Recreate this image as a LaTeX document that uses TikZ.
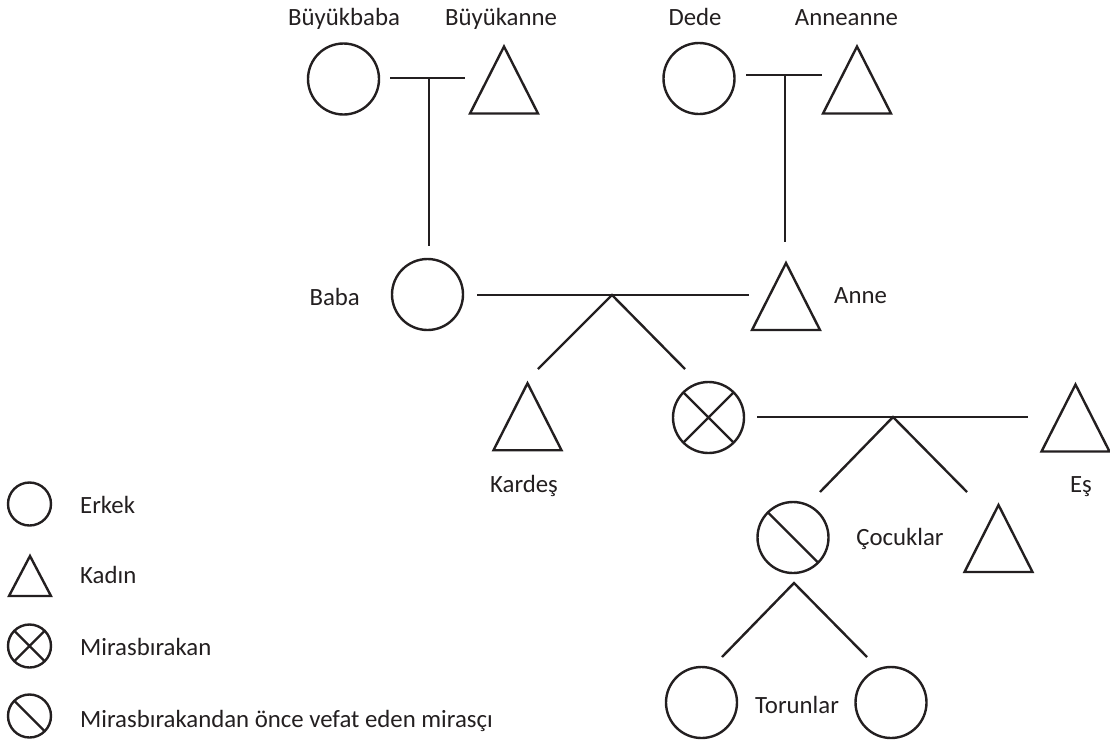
\documentclass[tikz,border=0pt]{standalone}
\usepackage{fontspec}
\setmainfont{Carlito}
\definecolor{ink}{HTML}{231F20}
\begin{document}
\begin{tikzpicture}[x=1pt,y=-1pt,
  stroke/.style={line width=2.4pt, draw=ink},
  male/.style={circle, stroke, minimum size=71pt, inner sep=0pt, outer sep=0pt},
  keymale/.style={circle, stroke, minimum size=43pt, inner sep=0pt, outer sep=0pt},
  female/.pic={\draw[stroke] (0,-33.5) -- (34,33.5) -- (-34,33.5) -- cycle;
               \coordinate (-apex) at (0,-33.5);},
  keyfemale/.pic={\draw[stroke] (0,-20) -- (21,20) -- (-21,20) -- cycle;
               \coordinate (-apex) at (0,-20);},
  lbl/.style={font=\fontsize{24.8}{28}\selectfont, inner sep=0pt, text=ink},
  link/.style={stroke, line cap=butt},
]
\useasboundingbox (0,0) rectangle (1110,745);

% ---- grandparents (father's side)
\node[male] (bbaba) at (343.5,79) {};
\pic (bkanne) at (504,80) {female};
\node[lbl, anchor=base] (lbbaba) at (344,25) {Büyükbaba};
\node[lbl, anchor=base] (lbkanne) at (501,25) {Büyükanne};

% ---- grandparents (mother's side)
\node[male] (dede) at (699,78.5) {};
\pic (aanne) at (857,80) {female};
\node[lbl, anchor=base] (ldede) at (695,25) {Dede};
\node[lbl, anchor=base] (laanne) at (846.5,25) {Anneanne};

% ---- parents
\node[male] (baba) at (427.5,294.5) {};
\pic (anne) at (786,296.5) {female};
\node[lbl, anchor=base east] (lbaba) at (360,305) {Baba};
\node[lbl, anchor=base west] (lanne) at (834,303) {Anne};

% ---- siblings and the deceased
\pic (kardes) at (527.5,416.7) {female};
\node[lbl, anchor=base] (lkardes) at (524,492) {Kardeş};
\node[male] (mb) at (708.5,417.5) {};
\draw[link] (mb.45) -- (mb.225) (mb.135) -- (mb.-45);
\pic (es) at (1075.5,418) {female};
\node[lbl, anchor=base] (les) at (1081,492) {Eş};

% ---- children
\node[male] (cocuk) at (793,537.5) {};
\draw[link] (cocuk.135) -- (cocuk.-45);
\pic (kiz) at (998.5,538.5) {female};
\node[lbl, anchor=base] (lcocuk) at (900,545) {Çocuklar};

% ---- grandchildren
\node[male] (torun1) at (701.5,702.5) {};
\node[male] (torun2) at (891,702.5) {};
\node[lbl, anchor=base] (ltorun) at (797,713) {Torunlar};

% ---- connector points
\coordinate (m1a) at (390,78);   \coordinate (m1b) at (465,78);
\coordinate (m1j) at (429,78);   \coordinate (m1d) at (429,246);
\coordinate (m2a) at (746,75);   \coordinate (m2b) at (822,75);
\coordinate (m2j) at (785,75);   \coordinate (m2d) at (785,242);
\coordinate (m3a) at (477,295);  \coordinate (m3b) at (749,295);
\coordinate (m3j) at (612,295);
\coordinate (m3l) at (538,369);  \coordinate (m3r) at (685,369);
\coordinate (m4a) at (757,417);  \coordinate (m4b) at (1028,417);
\coordinate (m4j) at (893,417);
\coordinate (m4l) at (820,492);  \coordinate (m4r) at (967,492);
\coordinate (m5j) at (794,583);
\coordinate (m5l) at (722,657);  \coordinate (m5r) at (867,657);

% ---- marriage and descent lines
\draw[link] (m1a) -- (m1b) (m1j) -- (m1d);
\draw[link] (m2a) -- (m2b) (m2j) -- (m2d);
\draw[link] (m3a) -- (m3b);
\draw[link, line join=miter] (m3l) -- (m3j) -- (m3r);
\draw[link] (m4a) -- (m4b);
\draw[link, line join=miter] (m4l) -- (m4j) -- (m4r);
\draw[link, line join=miter] (m5l) -- (m5j) -- (m5r);

% ---- key
\node[keymale] (kerkek) at (29.5,504) {};
\node[lbl, anchor=base west] (lerkek) at (80,513) {Erkek};
\pic (kkadin) at (30,576) {keyfemale};
\node[lbl, anchor=base west] (lkadin) at (80,583) {Kadın};
\node[keymale] (kmb) at (29.5,646) {};
\draw[link] (kmb.45) -- (kmb.225) (kmb.135) -- (kmb.-45);
\node[lbl, anchor=base west] (lmb) at (80,655) {Mirasbırakan};
\node[keymale] (kvefat) at (29.5,716) {};
\draw[link] (kvefat.135) -- (kvefat.-45);
\node[lbl, anchor=base west] (lvefat) at (80,727) {Mirasbırakandan önce vefat eden mirasçı};
\end{tikzpicture}
\end{document}
